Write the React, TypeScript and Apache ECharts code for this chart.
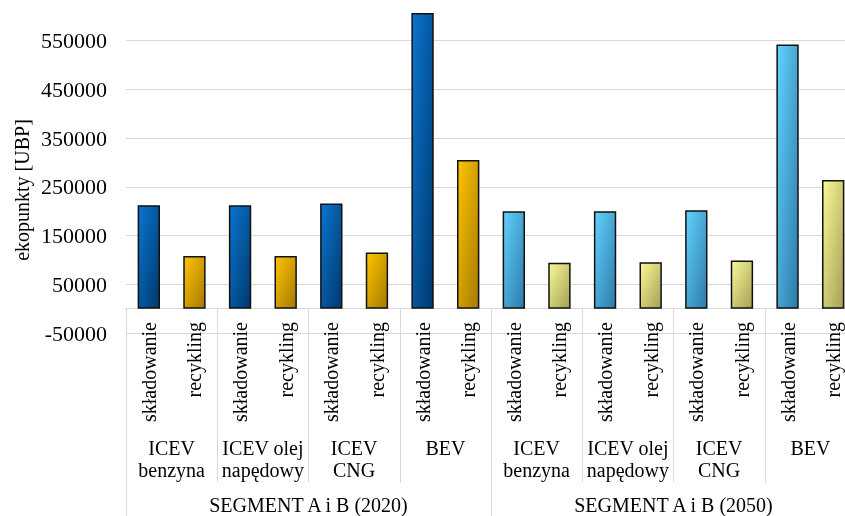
import React, { useEffect, useRef } from "react";
import * as echarts from "echarts";

// Vehicle groups, scenarios and end-of-life methods
const vehicles = ["ICEV\nbenzyna", "ICEV olej\nnapędowy", "ICEV\nCNG", "BEV"];
const scenarios = ["SEGMENT A i B (2020)", "SEGMENT A i B (2050)"];
const methods = ["składowanie", "recykling"];

// Eco-points [UBP] per vehicle, in the order of `vehicles`
const landfill2020 = [212000, 212000, 216000, 607000];
const recycling2020 = [108000, 108000, 115000, 305000];
const landfill2050 = [200000, 200000, 202000, 542000];
const recycling2050 = [94000, 95000, 99000, 264000];

// Value axis
const yMin = -50000;
const yMax = 650000;
const yStep = 100000;

const FONT = '"Liberation Serif", "Times New Roman", serif';
// The canvas is a little larger than the page so that the plot can run
// past the top and right edges.
const SHIFT_Y = 8;
const CHART_W = 856;
const CHART_H = 524;
const GRID_LEFT = 126;
const GRID_RIGHT = 0;
const GRID_TOP = 0;
const GRID_BOTTOM = 183;
const LINE_GRAY = "#d9d9d9";

const grad = (a: string, b: string) =>
  new echarts.graphic.LinearGradient(0, 0, 1, 1, [
    { offset: 0, color: a },
    { offset: 1, color: b },
  ]);

const palette = [
  [grad("#0a76d2", "#00386c"), grad("#ffc400", "#a57a00")],
  [grad("#62d2ff", "#2d7aa8"), grad("#fafa94", "#a49f58")],
];

export default function App() {
  const ref = useRef<HTMLDivElement>(null);

  useEffect(() => {
    if (!ref.current) return;
    const chart = echarts.init(ref.current, undefined, { renderer: "svg" });

    const series = [
      [landfill2020, recycling2020],
      [landfill2050, recycling2050],
    ];
    const categories: string[] = [];
    const data: any[] = [];
    scenarios.forEach((_, s) => {
      vehicles.forEach((_, v) => {
        methods.forEach((m, k) => {
          categories.push(m);
          data.push({
            value: series[s][k][v],
            itemStyle: { color: palette[s][k] },
          });
        });
      });
    });

    // pixel row of the zero line, where the category block starts
    const plotH = CHART_H - GRID_TOP - GRID_BOTTOM;
    const zeroY = GRID_TOP + (plotH * (yMax - 0)) / (yMax - yMin);

    chart.setOption({
      animation: false,
      textStyle: { fontFamily: FONT },
      grid: [
        { left: GRID_LEFT, right: GRID_RIGHT, top: GRID_TOP, bottom: GRID_BOTTOM },
        { left: GRID_LEFT, right: GRID_RIGHT, top: zeroY, bottom: 0 },
      ],
      graphic: [
        {
          type: "text",
          x: 22,
          y: 190 + SHIFT_Y,
          rotation: Math.PI / 2,
          style: {
            text: "ekopunkty [UBP]",
            font: `20px ${FONT}`,
            fill: "#000",
            align: "center",
            verticalAlign: "middle",
          },
        },
      ],
      xAxis: [
        {
          type: "category",
          gridIndex: 0,
          data: categories,
          axisLine: { onZero: true, lineStyle: { color: LINE_GRAY, width: 1 } },
          axisTick: { show: false },
          axisLabel: {
            interval: 0,
            rotate: 90,
            margin: -11,
            fontSize: 20,
            color: "#000",
            fontFamily: FONT,
          },
          splitLine: { show: false },
        },
        {
          type: "category",
          gridIndex: 1,
          position: "top",
          data: scenarios.flatMap(() => vehicles),
          axisLine: { show: false, onZero: false },
          axisTick: {
            show: true,
            inside: true,
            interval: 0,
            length: 174,
            lineStyle: { color: LINE_GRAY, width: 1 },
          },
          axisLabel: {
            inside: true,
            interval: 0,
            margin: 128,
            fontSize: 20,
            lineHeight: 22,
            color: "#000",
            fontFamily: FONT,
          },
          splitLine: { show: false },
        },
        {
          type: "category",
          gridIndex: 1,
          position: "top",
          data: scenarios,
          axisLine: { show: false, onZero: false },
          axisTick: {
            show: true,
            inside: true,
            interval: 0,
            length: 220,
            lineStyle: { color: LINE_GRAY, width: 1 },
          },
          axisLabel: {
            inside: true,
            interval: 0,
            margin: 186,
            fontSize: 20,
            color: "#000",
            fontFamily: FONT,
          },
          splitLine: { show: false },
        },
      ],
      yAxis: [
        {
          type: "value",
          gridIndex: 0,
          min: yMin,
          max: yMax,
          interval: yStep,
          axisLine: { show: false },
          axisTick: { show: false },
          axisLabel: {
            margin: 19,
            fontSize: 22,
            color: "#000",
            fontFamily: FONT,
            formatter: (v: number) => (v > yMax - yStep ? "" : String(v)),
          },
          splitLine: { show: true, lineStyle: { color: LINE_GRAY, width: 1 } },
        },
        {
          type: "value",
          gridIndex: 1,
          show: false,
          splitLine: { show: false },
        },
      ],
      series: [
        {
          type: "bar",
          xAxisIndex: 0,
          yAxisIndex: 0,
          barWidth: "49%",
          data,
          itemStyle: { borderColor: "#111", borderWidth: 1.5 },
        },
      ],
    });

    return () => chart.dispose();
  }, []);

  return (
    <div
      ref={ref}
      style={{
        position: "fixed",
        left: 0,
        top: -SHIFT_Y,
        width: CHART_W,
        height: CHART_H,
      }}
    />
  );
}
